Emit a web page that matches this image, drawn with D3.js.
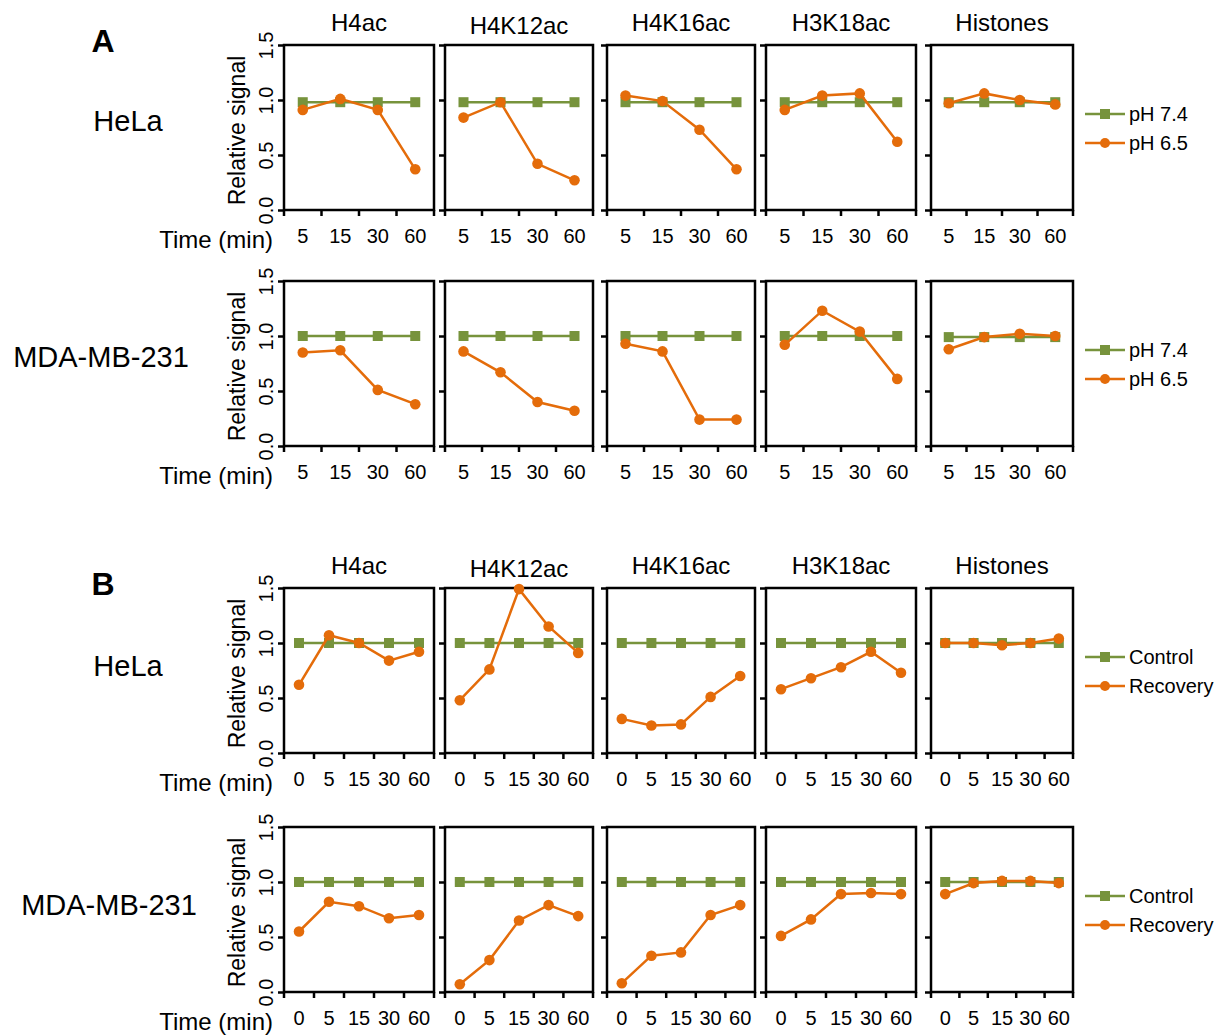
<!DOCTYPE html>
<html>
<head>
<meta charset="utf-8">
<script src="https://cdn.jsdelivr.net/npm/d3@7"></script>
<style>
  body { margin: 0; background: #fff; }
  text { font-family: "Liberation Sans", Arial, sans-serif; fill: #000; }
</style>
</head>
<body>
<div id="chart"></div>
<script>
// data
const marks = ['H4ac', 'H4K12ac', 'H4K16ac', 'H3K18ac', 'Histones'];
const timesA = ['5', '15', '30', '60'];
const timesB = ['0', '5', '15', '30', '60'];
const yTicks = [0, 0.5, 1.0, 1.5];

// panel A, HeLa
const aHeLa74 = [[0.98, 0.98, 0.98, 0.98], [0.98, 0.98, 0.98, 0.98], [0.98, 0.98, 0.98, 0.98], [0.98, 0.98, 0.98, 0.98], [0.98, 0.98, 0.98, 0.98]];
const aHeLa65 = [[0.91, 1.01, 0.91, 0.37], [0.84, 0.98, 0.42, 0.27], [1.04, 0.99, 0.73, 0.37], [0.91, 1.04, 1.06, 0.62], [0.97, 1.06, 1.0, 0.96]];
// panel A, MDA-MB-231
const aMDA74 = [[1, 1, 1, 1], [1, 1, 1, 1], [1, 1, 1, 1], [1, 1, 1, 1], [0.99, 0.99, 0.99, 0.99]];
const aMDA65 = [[0.85, 0.87, 0.51, 0.38], [0.86, 0.67, 0.40, 0.32], [0.93, 0.86, 0.24, 0.24], [0.92, 1.23, 1.04, 0.61], [0.88, 0.99, 1.02, 1.0]];
// panel B, HeLa
const bHeLaCtrl = [[1, 1, 1, 1, 1], [1, 1, 1, 1, 1], [1, 1, 1, 1, 1], [1, 1, 1, 1, 1], [1, 1, 1, 1, 1]];
const bHeLaRec = [[0.62, 1.07, 1.0, 0.84, 0.92], [0.48, 0.76, 1.49, 1.15, 0.91], [0.31, 0.25, 0.26, 0.51, 0.70], [0.58, 0.68, 0.78, 0.92, 0.73], [1.0, 1.0, 0.98, 1.0, 1.04]];
// panel B, MDA-MB-231
const bMDACtrl = [[1, 1, 1, 1, 1], [1, 1, 1, 1, 1], [1, 1, 1, 1, 1], [1, 1, 1, 1, 1], [1, 1, 1, 1, 1]];
const bMDARec = [[0.55, 0.82, 0.78, 0.67, 0.70], [0.07, 0.29, 0.65, 0.79, 0.69], [0.08, 0.33, 0.36, 0.70, 0.79], [0.51, 0.66, 0.89, 0.90, 0.89], [0.89, 0.99, 1.01, 1.01, 0.99]];

const green = '#77933c';
const orange = '#e46c0a';

const width = 1219, height = 1035;
const plotH = 165;

// panel boxes (left edge and width of each column)
const colLeft = [284, 445, 607, 766, 931];
const colWidth = [150, 148, 148, 150, 142];

const rows = [
  { letter: 'A', times: timesA, ctrl: aHeLa74, trt: aHeLa65, names: ['pH 7.4', 'pH 6.5'], top: 45, cell: 'HeLa', cellX: 128, cellDy: -2 },
  { times: timesA, ctrl: aMDA74, trt: aMDA65, names: ['pH 7.4', 'pH 6.5'], top: 281, cell: 'MDA-MB-231', cellX: 101, cellDy: -2 },
  { letter: 'B', times: timesB, ctrl: bHeLaCtrl, trt: bHeLaRec, names: ['Control', 'Recovery'], top: 588, cell: 'HeLa', cellX: 128, cellDy: 0 },
  { times: timesB, ctrl: bMDACtrl, trt: bMDARec, names: ['Control', 'Recovery'], top: 827, cell: 'MDA-MB-231', cellX: 109, cellDy: 0 }
];

const svg = d3.select('#chart')
  .append('svg')
  .attr('width', width)
  .attr('height', height);

const y = d3.scaleLinear().domain([0, 1.5]).range([plotH, 0]);

function drawSeries(g, x, vals, times, kind) {
  const cx = (d, i) => x(times[i]) + x.bandwidth() / 2;
  const line = d3.line().x(cx).y(d => y(d));
  const c = kind == 'ctrl' ? green : orange;
  g.append('path')
    .datum(vals)
    .attr('d', line)
    .style('fill', 'none')
    .style('stroke', c)
    .style('stroke-width', 2.5);
  if (kind == 'ctrl') {
    g.selectAll('rect.m')
      .data(vals)
      .enter()
      .append('rect')
      .attr('class', 'm')
      .attr('x', (d, i) => cx(d, i) - 5)
      .attr('y', d => y(d) - 5)
      .attr('width', 10)
      .attr('height', 10)
      .style('fill', c);
  } else {
    g.selectAll('circle.m')
      .data(vals)
      .enter()
      .append('circle')
      .attr('class', 'm')
      .attr('cx', cx)
      .attr('cy', d => y(d))
      .attr('r', 5.3)
      .style('fill', c);
  }
}

rows.forEach((row, r) => {

  // panel letter + column titles
  if (row.letter) {
    svg.append('text')
      .attr('x', 103)
      .attr('y', row.top + 7)
      .attr('text-anchor', 'middle')
      .style('font-size', '32px')
      .style('font-weight', 'bold')
      .text(row.letter);

    svg.selectAll(null)
      .data(marks)
      .enter()
      .append('text')
      .attr('x', (d, i) => colLeft[i] + colWidth[i] / 2)
      .attr('y', (d, i) => row.top - 14 + (i == 1 ? 3 : 0))
      .attr('text-anchor', 'middle')
      .style('font-size', '24px')
      .text(d => d);
  }

  // row label
  svg.append('text')
    .attr('x', row.cellX)
    .attr('y', row.top + plotH / 2 + 5 + row.cellDy)
    .attr('text-anchor', 'middle')
    .style('font-size', '29px')
    .text(row.cell);

  // y title
  svg.append('text')
    .attr('transform', 'translate(245,' + (row.top + plotH / 2 + 3) + ') rotate(-90)')
    .attr('text-anchor', 'middle')
    .style('font-size', '23px')
    .text('Relative signal');

  svg.append('text')
    .attr('x', 273)
    .attr('y', row.top + plotH + 38)
    .attr('text-anchor', 'end')
    .style('font-size', '24px')
    .text('Time (min)');

  marks.forEach((m, j) => {
    const w = colWidth[j];
    const x = d3.scaleBand().domain(row.times).range([0, w]);
    const g = svg.append('g')
      .attr('transform', 'translate(' + colLeft[j] + ',' + row.top + ')');

    // y axis ticks
    const ya = g.append('g')
      .call(d3.axisLeft(y).tickValues(yTicks).tickSize(6).tickFormat(j == 0 ? d3.format('.1f') : ''));
    ya.select('.domain').remove();
    ya.selectAll('line').style('stroke', '#000').style('stroke-width', 2.5);
    ya.selectAll('text')
      .attr('transform', 'rotate(-90)')
      .attr('x', 0)
      .attr('y', -11)
      .attr('dy', 0)
      .attr('text-anchor', 'middle')
      .style('font-size', '20px')
      .style('font-family', '"Liberation Sans", Arial, sans-serif');

    // x axis labels
    const xa = g.append('g')
      .attr('transform', 'translate(0,' + plotH + ')')
      .call(d3.axisBottom(x).tickSize(0));
    xa.select('.domain').remove();
    xa.selectAll('text')
      .attr('y', 33)
      .attr('dy', 0)
      .style('font-size', '20px')
      .style('font-family', '"Liberation Sans", Arial, sans-serif');

    // boundary ticks on the x axis
    g.selectAll('line.xt')
      .data(d3.range(row.times.length + 1))
      .enter()
      .append('line')
      .attr('class', 'xt')
      .attr('x1', i => i * x.step())
      .attr('x2', i => i * x.step())
      .attr('y1', plotH)
      .attr('y2', plotH + 6)
      .style('stroke', '#000')
      .style('stroke-width', 2.5);

    // frame
    g.append('rect')
      .attr('width', w)
      .attr('height', plotH)
      .style('fill', 'none')
      .style('stroke', '#000')
      .style('stroke-width', 2.5);

    drawSeries(g.append('g'), x, row.ctrl[j], row.times, 'ctrl');
    drawSeries(g.append('g'), x, row.trt[j], row.times, 'trt');
  });

  // legend
  const lg = svg.append('g')
    .attr('transform', 'translate(1085,' + (row.top + 69) + ')');
  row.names.forEach((n, k) => {
    const item = lg.append('g').attr('transform', 'translate(0,' + (k * 29) + ')');
    item.append('line')
      .attr('x1', 0).attr('x2', 40)
      .style('stroke', k == 0 ? green : orange)
      .style('stroke-width', 2.5);
    if (k == 0) {
      item.append('rect').attr('x', 15).attr('y', -5).attr('width', 10).attr('height', 10).style('fill', green);
    } else {
      item.append('circle').attr('cx', 20).attr('r', 5).style('fill', orange);
    }
    item.append('text')
      .attr('x', 44)
      .attr('y', 7)
      .style('font-size', '20px')
      .text(n);
  });
});
</script>
</body>
</html>
